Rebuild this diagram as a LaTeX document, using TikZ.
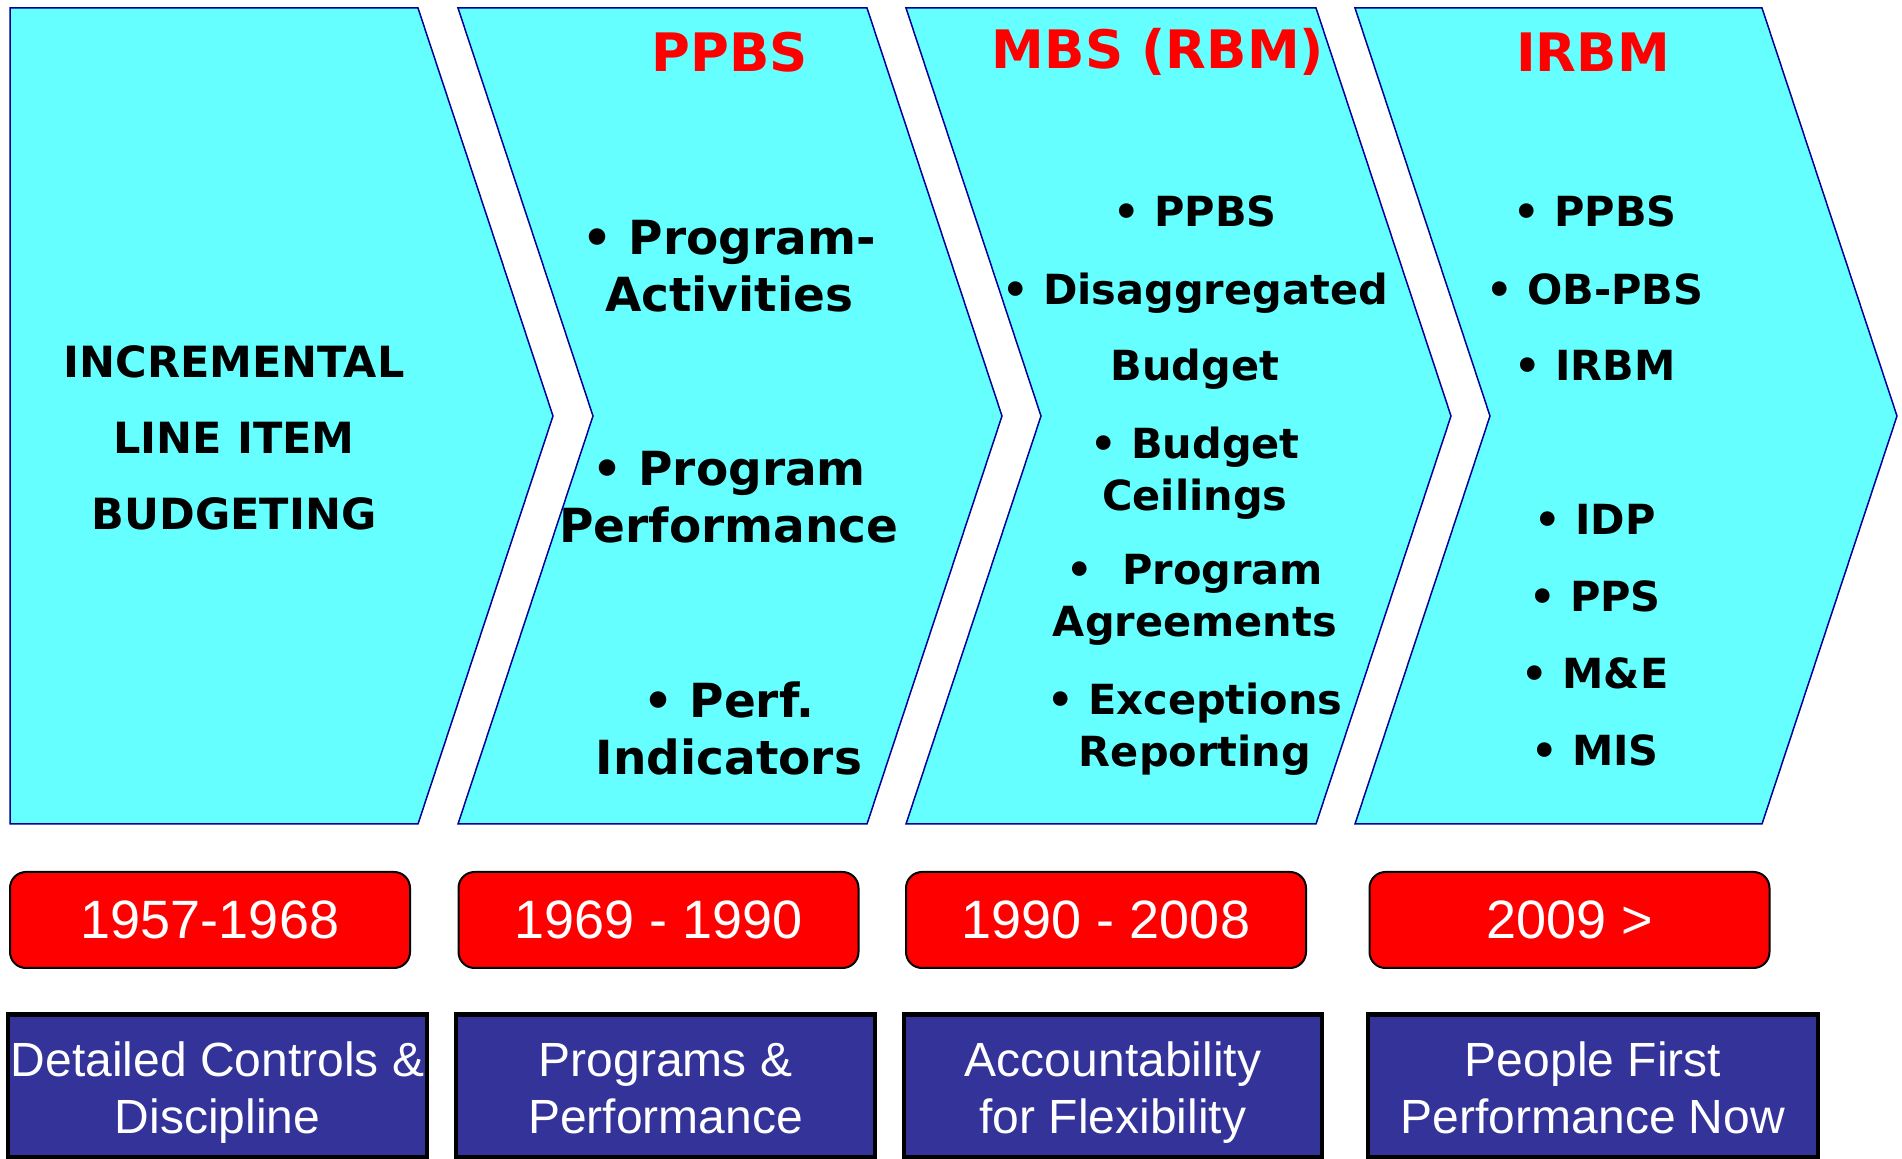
\documentclass[tikz,border=0pt]{standalone}
\usepackage{fontspec}
\setmainfont{DejaVu Sans}
\newfontfamily\arialfont{Liberation Sans}

\definecolor{cyanfill}{HTML}{66FFFF}
\definecolor{chevline}{HTML}{000099}
\definecolor{navybox}{HTML}{333399}
\newcommand{\mottotop}{\rule{0pt}{24.5pt}}
\newcommand{\mottobot}{\rule[-6pt]{0pt}{6pt}}

\begin{document}
\begin{tikzpicture}[x=0.5pt,y=-0.5pt,
		chevron/.style={fill=cyanfill, draw=chevline, line width=0.75pt},
		title/.style={text=red, font=\fontsize{26.5}{32}\selectfont\bfseries},
		bigitem/.style={align=center, font=\fontsize{23.5}{28.5}\selectfont\bfseries},
		smallitem/.style={align=center, font=\fontsize{20.75}{26}\selectfont\bfseries},
		yearbox/.style={draw=black, line width=1pt, fill=red, rounded corners=8pt,
			minimum width=200pt, minimum height=48pt, text=white,
			font=\arialfont\fontsize{27}{32}\selectfont},
		mottobox/.style={draw=black, line width=2.25pt, fill=navybox, text=white,
			align=center, inner sep=0pt, minimum height=71.5pt,
			font=\arialfont\fontsize{24}{28.5}\selectfont}]
		\useasboundingbox (0,0) rectangle (1902,1159);
		
		% Les quatre chevrons
		\filldraw[chevron] (10,8) -- (418,8) -- (553,416) -- (418,824) -- (10,824) -- cycle;
		\filldraw[chevron] (458,8) -- (867,8) -- (1002,416) -- (867,824) -- (458,824) -- (593,416) -- cycle;
		\filldraw[chevron] (906,8) -- (1316,8) -- (1451,416) -- (1316,824) -- (906,824) -- (1041,416) -- cycle;
		\filldraw[chevron] (1355,8) -- (1762,8) -- (1897,416) -- (1762,824) -- (1355,824) -- (1490,416) -- cycle;
		
		% Titres
		\node[title] (tPPBS) at (730,52) {PPBS};
		\node[title] (tMBS) at (1158,52) {MBS (RBM)};
		\node[title] (tIRBM) at (1593,52) {IRBM};
		
		% Chevron 1
		\node[align=center, font=\fontsize{21.5}{38}\selectfont\bfseries] (lineitem) at (234,438) {INCREMENTAL\\LINE ITEM\\BUDGETING};
		
		% Chevron 2
		\node[bigitem] (progact) at (729,266) {• Program-\\Activities};
		\node[bigitem] (progperf) at (729,497) {• Program\\Performance};
		\node[bigitem] (perfind) at (729,728) {• Perf.\\Indicators};
		
		% Chevron 3
		\node[smallitem] (mbsppbs) at (1195,211) {• PPBS};
		\node[smallitem] (disag) at (1195,331) {• Disaggregated\\[12pt]Budget};
		\node[smallitem] (ceil) at (1195,473) {• Budget\\Ceilings};
		\node[smallitem] (agree) at (1195,600) {•\ \ Program\\Agreements};
		\node[smallitem] (excep) at (1195,729) {• Exceptions\\Reporting};
		
		% Chevron 4
		\node[smallitem] (irppbs) at (1595,211) {• PPBS};
		\node[smallitem] (obpbs) at (1595,289) {• OB-PBS};
		\node[smallitem] (irirbm) at (1595,365) {• IRBM};
		\node[smallitem] (idp) at (1595,519) {• IDP};
		\node[smallitem] (pps) at (1595,596) {• PPS};
		\node[smallitem] (me) at (1595,673) {• M\&E};
		\node[smallitem] (mis) at (1595,750) {• MIS};
		
		% Periodes
		\node[yearbox] (y1) at (210,920) {1957-1968};
		\node[yearbox] (y2) at (658.5,920) {1969 - 1990};
		\node[yearbox] (y3) at (1106,920) {1990 - 2008};
		\node[yearbox] (y4) at (1569.5,920) {2009 >};
		
		% Devises
		\node[mottobox, minimum width=209.5pt] (m1) at (217.5,1086) {\mottotop Detailed Controls \&\\Discipline\mottobot};
		\node[mottobox, minimum width=209.5pt] (m2) at (665.5,1086) {\mottotop Programs \&\\Performance\mottobot};
		\node[mottobox, minimum width=209pt] (m3) at (1113,1086) {\mottotop Accountability\\for Flexibility\mottobot};
		\node[mottobox, minimum width=225pt] (m4) at (1593,1086) {\mottotop People First\\Performance Now\mottobot};
\end{tikzpicture}
\end{document}
